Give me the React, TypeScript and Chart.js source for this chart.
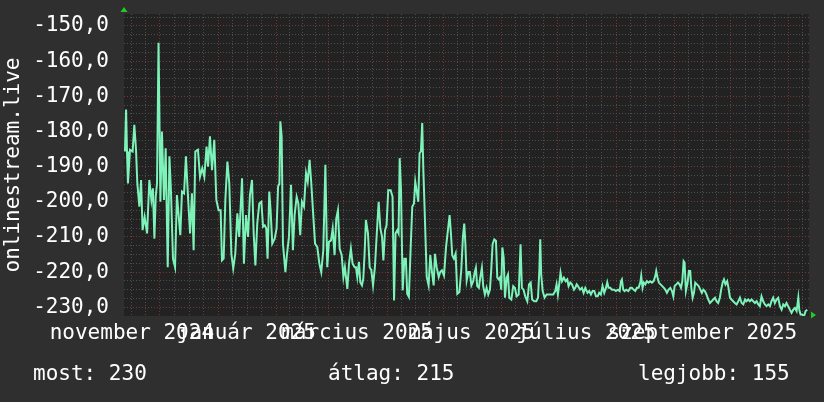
import React, { useEffect, useRef } from "react";
import { Chart, registerables } from "chart.js";

Chart.register(...registerables);

// ---- data (days since the left edge of the graph, value) ----
const EPOCH = Date.UTC(2024, 10, 11, 19, 40);
const DAY = 86400000;
const X_MIN = 0;
const X_MAX = 365;
const Y_MIN = -232.5;
const Y_MAX = -146.6;

const sampleDays = [
  0.5, 1.1, 1.6, 2.1, 3.2, 4.6, 5.5, 6.4, 7.1, 8.2, 9.1, 9.9, 11.0, 12.3, 13.5, 14.6, 15.4, 16.2, 16.9, 17.6,
  18.4, 19.4, 20.2, 21.3, 22.2, 23.3, 24.2, 25.0, 26.1, 27.2, 28.2, 30.0, 30.9, 32.0, 33.0, 34.1, 35.2, 36.2,
  37.1, 38.0, 39.4, 40.5, 41.7, 42.8, 44.0, 44.8, 45.8, 46.9, 48.1, 49.2, 50.4, 51.5, 52.2, 53.1, 54.0, 55.1,
  56.1, 57.2, 58.2, 59.3, 60.4, 61.4,
  62.9, 63.9, 65.0, 66.1, 67.1, 68.2, 69.1, 70.0, 71.0, 72.1, 73.2, 74.1, 75.0, 75.8, 76.5, 77.4, 78.1, 79.0,
  80.3, 81.3, 82.1, 82.8, 83.3, 84.0, 84.7, 86.0, 86.8, 87.9, 89.0, 90.0, 90.9, 92.0, 92.9, 93.9, 94.8, 95.9,
  97.0, 97.9, 98.9, 99.8, 100.9, 101.8, 103.0, 104.1, 105.1, 106.2, 107.3, 108.3, 109.2, 110.3, 111.2, 112.2,
  113.1, 114.0, 114.9, 116.0, 116.9, 117.7, 119.0, 119.9, 120.9, 121.8, 122.9,
  123.6, 124.3, 125.2, 125.9, 126.8, 127.5, 128.2, 128.9, 130.0, 130.9, 131.8, 132.7, 133.7, 134.8, 135.7,
  136.6, 137.5, 138.2, 139.1, 139.9, 140.8, 142.1, 143.1, 143.9, 144.7, 145.6, 146.3, 146.9, 147.6, 148.5,
  149.4, 150.2, 150.9, 151.8, 152.7, 153.6, 154.5, 155.2, 155.9, 156.8, 157.5, 158.2, 158.9, 159.5, 160.2,
  161.3, 162.3, 163.2, 164.1, 165.0, 165.7, 166.6, 167.7, 168.5, 169.4, 170.5, 171.6, 172.6, 173.5, 174.2,
  174.9, 175.8, 176.7, 177.6, 178.7, 179.7, 180.6, 181.3, 181.9, 182.6, 183.5, 184.3, 185.1,
  186.1, 186.8, 187.5, 188.2, 189.1, 189.8, 190.7, 191.4, 192.3, 193.2, 194.1, 195.0, 195.7, 196.4, 197.3,
  198.2, 198.9, 199.6, 200.3, 201.0, 201.6, 202.3, 203.0, 203.9, 204.6, 205.3, 206.4, 207.4, 208.3, 209.2,
  210.3, 211.3, 212.0, 212.9, 213.8, 214.9, 215.8, 216.7, 217.5, 218.6, 219.7, 220.6, 221.3, 221.8, 222.3,
  223.1, 224.1, 225.2, 227.5, 228.7, 229.8, 230.5, 231.2, 231.9, 232.6, 233.4, 234.4, 235.3, 236.2, 236.9,
  237.8, 238.7, 239.8, 240.5, 241.2, 241.9, 243.0, 244.0, 244.9, 245.8,
  247.0, 247.9, 248.8, 249.7, 250.6, 251.5, 252.4, 253.2, 254.1, 255.0, 255.9, 256.8, 257.5, 258.2, 259.1,
  260.0, 261.2, 262.1, 263.2, 264.1, 264.8, 265.3, 266.0, 266.7, 267.6, 268.7, 269.8, 270.6, 271.5, 272.4,
  273.3, 274.2, 275.1, 275.6, 276.3, 277.0, 277.8, 278.6, 279.5, 280.4, 281.3, 282.2, 283.1, 283.6, 284.3,
  285.0, 285.9, 286.8, 287.7, 288.4, 289.3, 290.2, 291.1, 292.0, 292.7, 293.4, 294.3, 295.2, 296.0, 296.8,
  297.5, 298.2, 298.7, 299.4, 300.3, 301.0, 301.7, 302.3, 303.0, 303.7, 304.4, 305.3, 306.2, 307.1, 307.9,
  308.7,
  309.5, 310.4, 311.3, 312.2, 313.1, 314.0, 314.9, 315.7, 316.6, 317.5, 318.2, 319.0, 319.7, 320.5, 321.4,
  322.1, 322.9, 323.7, 324.6, 325.5, 326.4, 327.3, 328.2, 329.1, 330.0, 330.9, 331.7, 332.6, 333.5, 334.4,
  335.3, 336.2, 337.1, 338.0, 338.8, 339.7, 340.6, 341.5, 342.4, 343.3, 344.2, 345.0, 345.9, 346.8, 347.7,
  348.6, 349.5, 350.4, 351.3, 352.2, 353.0, 353.9, 354.8, 355.7, 356.6, 357.5, 358.4, 359.3, 359.8, 360.5,
  361.4, 362.3, 363.2, 364.1,
];

const sampleValues = [
  -185.7, -173.8, -185.7, -194.8, -185.2, -185.7, -178.1, -185.2, -194.8, -201.4, -193.8, -208.1, -204.3, -209.0,
  -193.8, -199.5, -196.2, -210.5, -198.6, -194.8,
  -154.8, -200.0, -180.0, -199.5, -184.8, -218.6, -187.1, -196.7, -216.2, -218.6, -198.1, -209.5, -197.1, -197.6,
  -187.1, -198.6, -209.0, -197.6,
  -213.8, -185.7, -185.2, -192.9, -190.5, -192.9, -184.3, -190.0, -181.4, -191.0, -182.4, -199.5, -202.4, -202.4,
  -216.7, -216.2, -199.5, -188.6,
  -194.8, -214.8, -219.0, -214.8, -203.3, -210.0,
  -193.3, -217.6, -203.8, -210.0, -198.1, -193.8, -209.0, -218.1, -206.2, -200.5, -200.0, -207.1, -206.7, -207.6,
  -216.2, -197.1, -202.4, -211.9,
  -210.5, -207.6, -195.7, -194.8, -177.1, -181.4, -211.9, -220.0, -215.2, -210.0, -195.2, -213.8, -203.8, -198.6,
  -200.5, -209.5, -200.0, -201.4,
  -191.9, -194.3, -188.1, -194.8, -204.3, -211.9, -212.9, -217.6, -220.0, -213.8, -189.5, -218.6, -211.4, -211.0,
  -207.6, -215.2,
  -204.8, -202.4, -213.3, -215.2, -221.4, -218.6, -224.8, -217.6, -213.3, -217.6, -218.6,
  -218.6, -221.4, -217.1, -222.9, -223.8, -221.9, -214.8, -205.2, -209.0, -218.6, -219.5, -223.8, -218.6, -208.1,
  -200.0,
  -207.6, -210.0, -216.7, -208.1, -206.7, -196.7, -196.7, -198.6, -228.1, -209.0, -208.1, -209.0, -187.6, -196.7,
  -225.2,
  -216.2, -216.2, -226.2, -227.1, -213.8, -201.4, -200.5, -194.3, -196.7, -200.0, -186.2, -185.7, -177.6, -191.0,
  -202.4,
  -221.4, -223.8, -215.2, -220.0, -223.8, -214.8, -218.6, -221.4, -220.0, -219.5, -221.0, -212.9, -208.1, -203.8,
  -209.0,
  -215.2, -216.2, -214.8, -226.2, -225.7, -219.5, -210.0, -206.2, -211.9, -222.4, -220.0, -220.0, -223.8,
  -222.6, -220.2, -218.8, -224.0, -224.5, -221.6, -218.8, -224.0, -226.4, -224.5, -226.4, -225.0, -219.2, -212.1,
  -210.7,
  -211.1, -221.6, -222.1, -221.6, -225.0, -213.0, -215.9, -227.3, -221.6, -220.7, -227.3, -227.8, -224.0, -224.5,
  -226.9,
  -226.4, -212.1, -224.5, -225.0, -226.9, -228.3, -223.5, -223.0, -227.8, -228.3, -228.3, -227.3, -219.7, -210.7,
  -220.7,
  -225.4, -227.3, -226.4, -226.4, -226.4, -225.4, -223.5, -226.4, -223.5, -220.2, -222.6, -221.6, -222.6, -222.1,
  -224.0,
  -223.0, -223.5, -225.0, -224.5, -223.5, -224.0, -225.0, -224.5, -225.9, -224.5,
  -225.9, -225.4, -226.4, -225.4, -225.4, -226.9, -226.9, -225.9, -226.4, -224.0, -225.9, -224.5, -222.9, -224.5,
  -224.5,
  -225.0, -225.0, -225.4, -225.0, -225.4, -222.6, -222.1, -225.0, -225.4, -225.0, -225.4, -224.5, -224.5, -225.0,
  -225.4,
  -224.5, -224.5, -223.0, -221.1, -224.5, -223.0, -223.5, -222.6, -223.0, -222.6, -223.0, -222.6, -221.1, -219.7,
  -221.6,
  -223.0, -223.5, -224.0, -224.5, -225.0, -225.9, -225.0, -224.5, -225.4, -226.9, -224.0, -223.5, -223.0, -223.5,
  -224.5,
  -222.6, -216.9, -217.3, -225.4, -223.0, -219.7, -219.7, -224.5, -227.3, -225.9, -223.0, -223.5, -224.0, -225.0,
  -225.9,
  -225.0,
  -225.4, -226.4, -227.8, -228.8, -228.3, -227.8, -227.3, -228.3, -228.8, -227.3, -225.0, -223.0, -222.1, -223.5,
  -222.6,
  -224.5, -227.3, -227.8, -228.3, -228.8, -229.2, -228.3, -227.3, -228.8, -229.2, -227.8, -228.3, -227.8, -228.3,
  -227.8,
  -228.3, -228.8, -228.3, -229.2, -229.7, -226.9, -228.3, -229.2, -229.7, -229.2, -229.7, -228.3, -227.3, -228.8,
  -227.8,
  -227.3, -229.7, -230.7, -229.2, -229.7, -228.8, -229.7, -230.7, -231.6, -230.7, -230.2, -231.1, -227.3, -230.7,
  -232.1,
  -232.1, -232.6, -231.1, -230.7,
];

// months used for the major (red) grid; quarter points give the minor grid
const gridMonths: [number, number][] = [
  [2024, 10], [2024, 11], [2025, 0], [2025, 1], [2025, 2], [2025, 3], [2025, 4],
  [2025, 5], [2025, 6], [2025, 7], [2025, 8], [2025, 9], [2025, 10], [2025, 11],
];
const labelMonths: [number, number][] = [
  [2024, 10], [2025, 0], [2025, 2], [2025, 4], [2025, 6], [2025, 8],
];
const labelTexts = [
  "november 2024", "január 2025", "március 2025", "május 2025", "július 2025", "szeptember 2025",
];
const yGridValues = [
  -230, -227.5, -225, -222.5, -220, -217.5, -215, -212.5, -210, -207.5, -205, -202.5, -200, -197.5,
  -195, -192.5, -190, -187.5, -185, -182.5, -180, -177.5, -175, -172.5, -170, -167.5, -165, -162.5,
  -160, -157.5, -155, -152.5, -150, -147.5,
];
const yAxisTitle = "onlinestream.live";
const statTexts = ["most: 230", "átlag: 215", "legjobb: 155"];

const FONT = "'DejaVu Sans Mono', monospace";
const BG = "#2f2f2f";
const CANVAS_BG = "#222222";
const GRID = "#4e4e4e";
const MGRID = "#773636";
const LINE = "#7df2b9";

const dayOf = (y: number, m: number, d: number) => (Date.UTC(y, m, d) - EPOCH) / DAY;

export default function App() {
  const ref = useRef<HTMLCanvasElement | null>(null);

  useEffect(() => {
    if (!ref.current) return;
    const major: number[] = [];
    const minor: number[] = [];
    for (let i = 0; i < gridMonths.length - 1; i++) {
      const s = dayOf(gridMonths[i][0], gridMonths[i][1], 1);
      const e = dayOf(gridMonths[i + 1][0], gridMonths[i + 1][1], 1);
      major.push(s);
      for (let k = 1; k < 4; k++) minor.push(s + ((e - s) * k) / 4);
    }
    const inRange = (v: number) => v > X_MIN && v < X_MAX;
    const xGrid = [...minor.filter(inRange).map((v) => ({ value: v, major: false })),
      ...major.filter(inRange).map((v) => ({ value: v, major: true }))];
    const labelDays = labelMonths.map(([y, m]) => dayOf(y, m, 16));

    const bgPlugin = {
      id: "bg",
      beforeDraw(chart: any) {
        const { ctx, chartArea } = chart;
        ctx.save();
        ctx.fillStyle = BG;
        ctx.fillRect(0, 0, chart.width, chart.height);
        ctx.fillStyle = CANVAS_BG;
        ctx.fillRect(chartArea.left, chartArea.top, chartArea.right - chartArea.left, chartArea.bottom - chartArea.top);
        ctx.restore();
      },
      afterDraw(chart: any) {
        const { ctx, chartArea } = chart;
        ctx.save();
        ctx.fillStyle = "#22cc22";
        const l = chartArea.left;
        const t = chartArea.top;
        ctx.beginPath();
        ctx.moveTo(l - 3.5, t - 2);
        ctx.lineTo(l + 3.5, t - 2);
        ctx.lineTo(l, t - 7);
        ctx.closePath();
        ctx.fill();
        const r = chartArea.right;
        const b = chartArea.bottom - 1;
        ctx.beginPath();
        ctx.moveTo(r + 2, b - 3.5);
        ctx.lineTo(r + 2, b + 3.5);
        ctx.lineTo(r + 7, b);
        ctx.closePath();
        ctx.fill();
        ctx.restore();
      },
    };

    const chart = new Chart(ref.current, {
      type: "line",
      data: {
        datasets: [
          {
            data: sampleDays.map((d, i) => ({ x: d, y: sampleValues[i] })),
            borderColor: LINE,
            borderWidth: 2,
            pointRadius: 0,
            tension: 0,
            fill: false,
          },
        ],
      },
      options: {
        animation: false,
        responsive: false,
        devicePixelRatio: 1,
        layout: { padding: { top: 14, right: 15, left: 0, bottom: 0 } },
        plugins: { legend: { display: false }, tooltip: { enabled: false } },
        scales: {
          x: {
            type: "linear",
            min: X_MIN,
            max: X_MAX,
            position: "bottom",
            afterBuildTicks: (s: any) => {
              s.ticks = xGrid.map((t) => ({ value: t.value, major: t.major }));
            },
            afterFit: (s: any) => {
              s.height = 0;
              s.paddingLeft = 0;
              s.paddingRight = 0;
            },
            ticks: { display: false, autoSkip: false },
            grid: {
              drawTicks: false,
              color: (c: any) => (c.tick && c.tick.major ? MGRID : GRID),
            },
            border: { display: false, dash: [1, 2] },
          },
          x2: {
            type: "linear",
            min: X_MIN,
            max: X_MAX,
            position: "bottom",
            afterBuildTicks: (s: any) => {
              s.ticks = labelDays.map((v) => ({ value: v }));
            },
            afterFit: (s: any) => {
              s.height = 86;
              s.paddingLeft = 0;
              s.paddingRight = 0;
            },
            ticks: {
              autoSkip: false,
              maxRotation: 0,
              minRotation: 0,
              padding: 5,
              color: "#ffffff",
              font: { family: FONT, size: 21 },
              callback: (_v: any, i: number) => labelTexts[i],
            },
            grid: { display: false, drawTicks: false },
            border: { display: false },
          },
          y: {
            type: "linear",
            min: Y_MIN,
            max: Y_MAX,
            afterBuildTicks: (s: any) => {
              s.ticks = yGridValues.map((v) => ({ value: v }));
            },
            afterFit: (s: any) => {
              s.width = 124;
              s.paddingTop = 0;
              s.paddingBottom = 0;
            },
            ticks: {
              autoSkip: false,
              padding: 15,
              color: "#ffffff",
              font: { family: FONT, size: 21 },
              callback: (v: any) => (Math.round(v * 10) % 100 === 0 ? Number(v).toFixed(1).replace(".", ",") : ""),
            },
            grid: {
              drawTicks: false,
              color: (c: any) => (c.tick && Math.round(c.tick.value * 10) % 100 === 0 ? MGRID : GRID),
            },
            border: { display: false, dash: [1, 2] },
            title: {
              display: true,
              text: yAxisTitle,
              color: "#ffffff",
              font: { family: FONT, size: 21 },
              padding: { top: 1, bottom: 0 },
            },
          },
        },
      },
      plugins: [bgPlugin],
    } as any);
    return () => chart.destroy();
  }, []);

  const statStyle = (left: number): React.CSSProperties => ({
    position: "absolute",
    left,
    top: 361,
    fontFamily: FONT,
    fontSize: 21,
    lineHeight: "25px",
    color: "#ffffff",
    whiteSpace: "pre",
  });

  return (
    <div style={{ position: "fixed", left: 0, top: 0, width: 824, height: 402, background: BG }}>
      <canvas ref={ref} width={824} height={402} style={{ display: "block" }} />
      <div style={statStyle(33)}>{statTexts[0]}</div>
      <div style={statStyle(328)}>{statTexts[1]}</div>
      <div style={statStyle(638)}>{statTexts[2]}</div>
    </div>
  );
}
